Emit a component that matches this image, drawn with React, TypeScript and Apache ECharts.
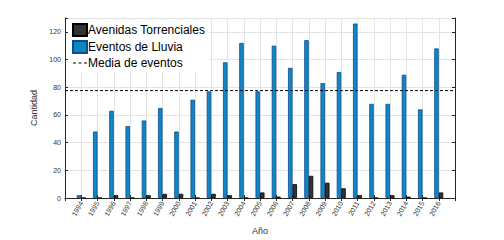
import React, { useEffect, useRef } from "react";
import * as echarts from "echarts";

const years = [1994, 1995, 1996, 1997, 1998, 1999, 2000, 2001, 2002, 2003, 2004, 2005, 2006, 2007, 2008, 2009, 2010, 2011, 2012, 2013, 2014, 2015, 2016];
const eventosLluvia = [2, 48, 63, 52, 56, 65, 48, 71, 77, 98, 112, 77, 110, 94, 114, 83, 91, 126, 68, 68, 89, 64, 108];
const avenidas = [0, 0, 2, 0, 2, 3, 3, 0, 3, 2, 0, 4, 1, 10, 16, 11, 7, 2, 0, 2, 1, 0, 4];
const xMin = 1993;
const xMax = 2017;
const yTicks = [0, 20, 40, 60, 80, 100, 120];

const FONT = "Liberation Sans, Arial, sans-serif";
const DASH_ICON =
  "path://M0,0h0.01v0.01h-0.01z M14,12h-0.01v-0.01h0.01z M0,5.5h3v1h-3z M5.5,5.5h3v1h-3z M11,5.5h3v1h-3z";

export default function App() {
  const ref = useRef<HTMLDivElement>(null);
  useEffect(() => {
    document.body.style.margin = "0";
    if (!ref.current) return;
    const chart = echarts.init(ref.current, undefined, { renderer: "svg" });
    const mean = eventosLluvia.reduce((a, b) => a + b, 0) / eventosLluvia.length;
    const axisLineColor = "#262626";
    const gridColor = "#e3e3e3";
    chart.setOption({
      animation: false,
      backgroundColor: "#ffffff",
      grid: { left: 65, right: 49, top: 18, bottom: 38, containLabel: false },
      legend: {
        orient: "vertical",
        left: 68,
        top: 20,
        backgroundColor: "#ffffff",
        padding: [3, 4, 3, 4],
        itemGap: 3,
        itemWidth: 14,
        itemHeight: 12,
        textStyle: { fontSize: 12, fontFamily: FONT, color: "#000", padding: [0, 0, 0, -4] },
        data: [
          { name: "Avenidas Torrenciales", icon: "rect" },
          { name: "Eventos de Lluvia", icon: "rect" },
          { name: "Media de eventos", icon: DASH_ICON, itemStyle: { color: "#000", borderWidth: 0 } },
        ],
      },
      xAxis: [
        {
          type: "value",
          min: xMin,
          max: xMax,
          interval: 1,
          name: "Año",
          nameLocation: "middle",
          nameGap: 28,
          nameTextStyle: { fontSize: 9, fontFamily: FONT, color: "#333" },
          axisLine: { show: true, lineStyle: { color: axisLineColor, width: 1 } },
          axisTick: { show: true, inside: true, length: 3, lineStyle: { color: axisLineColor } },
          splitLine: { show: true, lineStyle: { color: gridColor, width: 1 } },
          axisLabel: {
            rotate: 60,
            fontSize: 7,
            fontFamily: FONT,
            color: "#333",
            margin: 4,
            formatter: (v: number) => (years.indexOf(v) >= 0 ? String(v) : ""),
          },
        },
        {
          type: "value",
          position: "top",
          min: xMin,
          max: xMax,
          interval: 1,
          axisLine: { show: true, lineStyle: { color: axisLineColor, width: 1 } },
          axisTick: { show: true, inside: true, length: 3, lineStyle: { color: axisLineColor } },
          splitLine: { show: false },
          axisLabel: { show: false },
        },
      ],
      yAxis: [
        {
          type: "value",
          min: 0,
          max: 130,
          interval: 20,
          name: "Cantidad",
          nameLocation: "middle",
          nameGap: 20,
          nameTextStyle: { fontSize: 9, fontFamily: FONT, color: "#333" },
          axisLine: { show: true, lineStyle: { color: axisLineColor, width: 1 } },
          axisTick: { show: true, inside: true, length: 3, lineStyle: { color: axisLineColor } },
          splitLine: { show: true, lineStyle: { color: gridColor, width: 1 } },
          axisLabel: {
            fontSize: 7,
            fontFamily: FONT,
            color: "#333",
            margin: 4,
            formatter: (v: number) => (yTicks.indexOf(v) >= 0 ? String(v) : ""),
          },
        },
        {
          type: "value",
          position: "right",
          min: 0,
          max: 130,
          interval: 20,
          axisLine: { show: true, lineStyle: { color: axisLineColor, width: 1 } },
          axisTick: { show: true, inside: true, length: 3, lineStyle: { color: axisLineColor } },
          splitLine: { show: false },
          axisLabel: { show: false },
        },
      ],
      series: [
        {
          name: "Eventos de Lluvia",
          type: "bar",
          xAxisIndex: 0,
          yAxisIndex: 0,
          barWidth: 4.5,
          barGap: "0%",
          itemStyle: { color: "#0f86c6", borderColor: "#0b4d8c", borderWidth: 0.8 },
          data: years.map((y, i) => [y, eventosLluvia[i]]),
        },
        {
          name: "Avenidas Torrenciales",
          type: "bar",
          xAxisIndex: 0,
          yAxisIndex: 0,
          barWidth: 4.5,
          barGap: "0%",
          itemStyle: { color: "#333333", borderColor: "#000000", borderWidth: 0.8 },
          data: years.map((y, i) => [y, avenidas[i]]),
        },
        {
          name: "Media de eventos",
          type: "line",
          xAxisIndex: 0,
          yAxisIndex: 0,
          symbol: "none",
          z: 5,
          lineStyle: { color: "#000", width: 1, type: [3, 2] },
          itemStyle: { color: "#000" },
          data: [
            [xMin, mean],
            [xMax, mean],
          ],
        },
      ],
    });
    return () => chart.dispose();
  }, []);
  return <div ref={ref} style={{ width: 504, height: 240 }} />;
}
